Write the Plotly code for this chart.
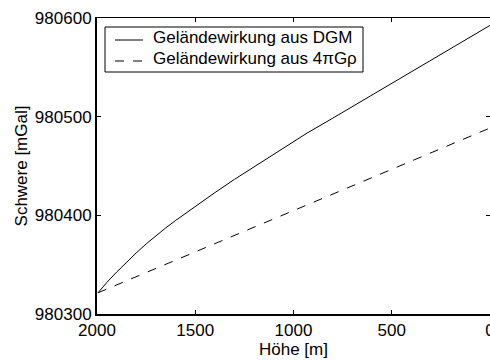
import plotly.graph_objects as go

# Solid curve: Geländewirkung aus DGM
dgm_hoehe = [1995, 1950, 1900, 1850, 1800, 1750, 1700, 1650, 1600, 1550, 1500,
             1450, 1400, 1300, 1200, 1100, 1000, 930, 800, 600, 400, 200, 0]
dgm_schwere = [980321.5, 980332, 980342.5, 980352.5, 980362, 980371, 980379.5,
               980387.3, 980394.8, 980402, 980409, 980416, 980423, 980436.5,
               980449.3, 980461.8, 980474.3, 980483.5, 980498.5, 980522, 980545.5,
               980569, 980592.5]

# Dashed line: Geländewirkung aus 4πGρ
bg_hoehe = [1995, 1500, 1000, 500, 0]
bg_schwere = [980321.5, 980363, 980405, 980447, 980488.5]

legend_names = ["Geländewirkung aus DGM", "Geländewirkung aus 4πGρ"]

x_ticks = [2000, 1500, 1000, 500, 0]
y_ticks = [980300, 980400, 980500, 980600]
x_range = [2000, 0]
y_range = [980300, 980600]

FONT = "Liberation Sans, Arial, Helvetica, sans-serif"

# plot area geometry (pixels) for paper conversions
L, T, W, H = 97, 18, 393, 296


def px(x):
    return (x - L) / W


def py(y):
    return (T + H - y) / H


fig = go.Figure()
fig.add_trace(go.Scatter(x=dgm_hoehe, y=dgm_schwere, mode="lines",
                         line=dict(color="black", width=1),
                         name=legend_names[0], showlegend=False))
fig.add_trace(go.Scatter(x=bg_hoehe, y=bg_schwere, mode="lines",
                         line=dict(color="black", width=1, dash="dash"),
                         name=legend_names[1], showlegend=False))
# invisible trace to activate the mirrored top/right axes
fig.add_trace(go.Scatter(x=bg_hoehe, y=bg_schwere, mode="lines", xaxis="x2",
                         yaxis="y2", opacity=0, showlegend=False,
                         hoverinfo="skip", line=dict(width=0)))

tickfont = dict(family=FONT, size=17, color="black")
common = dict(showgrid=False, zeroline=False, ticks="inside", ticklen=4,
              tickcolor="black", tickwidth=1)

fig.update_layout(
    template="none",
    width=490, height=361,
    margin=dict(l=L, r=490 - L - W, t=T, b=361 - T - H),
    paper_bgcolor="white", plot_bgcolor="white",
    font=dict(family=FONT, size=17, color="black"),
    showlegend=False,
    xaxis=dict(range=x_range, tickvals=x_ticks,
               ticktext=[str(v) for v in x_ticks],
               showline=True, linecolor="black", linewidth=2, mirror=False,
               tickfont=tickfont, ticklabeloverflow="allow",
               title=dict(text="Höhe [m]", font=dict(family=FONT, size=17), standoff=1),
               **common),
    yaxis=dict(range=y_range, tickvals=y_ticks,
               ticktext=[str(v) for v in y_ticks],
               showline=True, linecolor="black", linewidth=2, mirror=False,
               tickfont=tickfont,
               title=dict(text="Schwere [mGal]", font=dict(family=FONT, size=17), standoff=3),
               **common),
    xaxis2=dict(range=x_range, tickvals=x_ticks, overlaying="x", side="top",
                showline=True, linecolor="black", linewidth=1,
                showticklabels=False, **common),
    yaxis2=dict(range=y_range, tickvals=y_ticks, overlaying="y", side="right",
                showline=False, showticklabels=False, **common),
)

# Legend box (drawn by hand to match the reference's compact layout)
fig.add_shape(type="rect", xref="paper", yref="paper",
              x0=px(105), x1=px(363), y0=py(72), y1=py(27),
              line=dict(color="black", width=1), fillcolor="white", layer="above")
fig.add_shape(type="line", xref="paper", yref="paper",
              x0=px(115), x1=px(143), y0=py(40), y1=py(40),
              line=dict(color="black", width=1), layer="above")
fig.add_shape(type="line", xref="paper", yref="paper",
              x0=px(115), x1=px(143), y0=py(61), y1=py(61),
              line=dict(color="black", width=1, dash="dash"), layer="above")
for name, yc in zip(legend_names, [37.5, 58.5]):
    fig.add_annotation(text=name, xref="paper", yref="paper",
                       x=px(151), y=py(yc), xanchor="left", yanchor="middle",
                       showarrow=False, font=dict(family=FONT, size=17, color="black"))

fig.write_html("out.html")
